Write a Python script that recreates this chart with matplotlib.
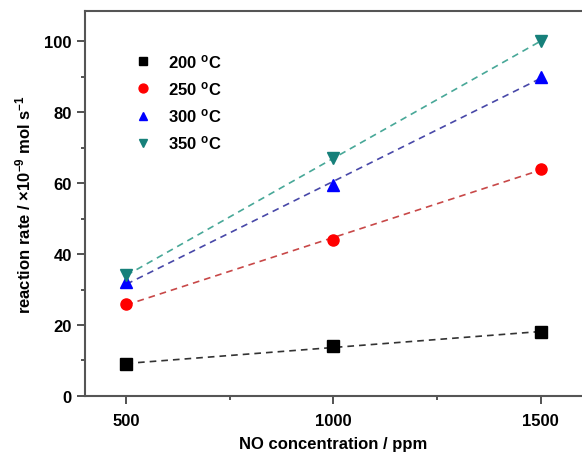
import numpy as np
import matplotlib
matplotlib.use("Agg")
from matplotlib import pyplot as plt
from matplotlib.ticker import MultipleLocator

plt.rcParams['font.family'] = 'Liberation Sans'
plt.rcParams['font.weight'] = 'bold'
plt.rcParams['mathtext.fontset'] = 'custom'
plt.rcParams['mathtext.rm'] = 'Liberation Sans:bold'
plt.rcParams['mathtext.bf'] = 'Liberation Sans:bold'
plt.rcParams['mathtext.default'] = 'bf'

conc = [500, 1000, 1500]
labels = ['200 $^{o}$C', '250 $^{o}$C', '300 $^{o}$C', '350 $^{o}$C']
rate_200 = [9, 14, 18]
rate_250 = [26, 44, 64]
rate_300 = [32, 59.5, 90]
rate_350 = [34, 67, 100]

series = [rate_200, rate_250, rate_300, rate_350]
markers = ['s', 'o', '^', 'v']
colors = ['black', '#ff0000', '#0000ff', '#16807a']
fitcolors = ['#333333', '#c84848', '#4848a8', '#48a898']

fig = plt.figure(figsize=(5.82, 4.60), dpi=100)
ax = fig.add_axes([0.146, 0.137, 0.854, 0.837])

x = np.array(conc)
for vals, m, c, fc, lab in zip(series, markers, colors, fitcolors, labels):
    k, b = np.polyfit(x, vals, 1)
    ax.plot(x, k * x + b, '--', color=fc, lw=1.2, dashes=(4, 3))
    ax.plot(x, vals, m, color=c, ms=8, ls='none', label=lab)

ax.set_xlim(400, 1600)
ax.set_ylim(0, 108.5)
ax.xaxis.set_major_locator(MultipleLocator(500))
ax.xaxis.set_minor_locator(MultipleLocator(250))
ax.yaxis.set_major_locator(MultipleLocator(20))
ax.yaxis.set_minor_locator(MultipleLocator(10))
ax.tick_params(which='major', direction='out', length=6, width=1.3, labelsize=12, colors='#444444', labelcolor='black')
ax.tick_params(which='minor', direction='out', length=3, width=1.3, colors='#444444')
ax.tick_params(axis='x', pad=6)
for s in ['left', 'bottom', 'top']:
    ax.spines[s].set_linewidth(1.5)
    ax.spines[s].set_color('#555555')
ax.spines['right'].set_visible(False)

ax.set_xlabel('NO concentration / ppm', fontsize=12, fontweight='bold', labelpad=6)
ax.set_ylabel('reaction rate / $\\times$10$^{-9}$ mol s$^{-1}$', fontsize=12, fontweight='bold', labelpad=8)

ax.legend(loc='upper left', bbox_to_anchor=(0.084, 0.915), frameon=False, fontsize=12,
          borderpad=0, handlelength=1.0, handletextpad=1.0, labelspacing=0.55,
          markerscale=0.8)

fig.savefig('out.png', dpi=100)
